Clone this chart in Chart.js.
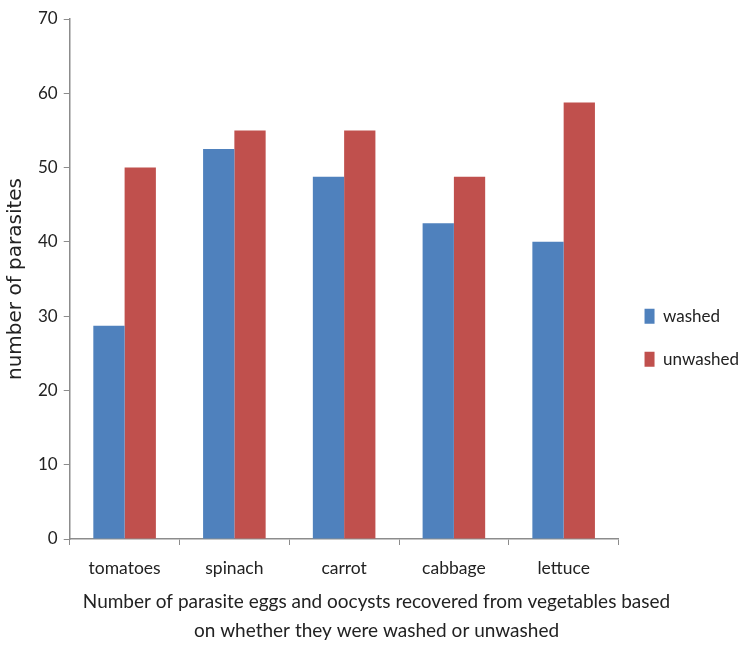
<!DOCTYPE html>
<html>
<head>
<meta charset="utf-8">
<script src="https://cdn.jsdelivr.net/npm/chart.js@4"></script>
<style>
  html, body { margin: 0; padding: 0; background: #fff; }
  #wrap { width: 739px; height: 645px; }
</style>
</head>
<body>
<div id="wrap"><canvas id="parasiteChart" width="739" height="645"></canvas></div>
<script>
// vegetables and counts
const vegetables = ['tomatoes', 'spinach', 'carrot', 'cabbage', 'lettuce'];
const washed = [28.7, 52.5, 48.75, 42.5, 40];
const unwashed = [50, 55, 55, 48.75, 58.75];
const yTicks = [0, 10, 20, 30, 40, 50, 60, 70];

const axisGray = '#8c8c8c';
const textColor = '#222';

const ctx = document.getElementById('parasiteChart').getContext('2d');
new Chart(ctx, {
    type: 'bar',
    data: {
        labels: vegetables,
        datasets: [
            { label: 'washed', data: washed, backgroundColor: '#4f81bd' },
            { label: 'unwashed', data: unwashed, backgroundColor: '#c0504d' }
        ]
    },
    options: {
        responsive: false,
        animation: false,
        layout: { padding: { top: 19, left: 4, right: -10, bottom: 0 } },
        datasets: { bar: { categoryPercentage: 0.57, barPercentage: 1.0 } },
        plugins: {
            legend: {
                position: 'right',
                // blank title just nudges the items down a little
                title: { display: true, text: ' ', font: { size: 8 }, padding: 1 },
                labels: {
                    boxWidth: 10,
                    boxHeight: 15,
                    padding: 26,
                    color: textColor,
                    font: { family: 'Lato', size: 17 }
                }
            },
            title: {
                display: true,
                position: 'bottom',
                text: ['Number of parasite eggs and oocysts recovered from vegetables based',
                       'on whether they were washed or unwashed'],
                color: textColor,
                font: { family: 'Lato', size: 19, weight: 'normal', lineHeight: 1.5 },
                padding: { top: -4, bottom: 0 }
            },
            tooltip: { enabled: false }
        },
        scales: {
            x: {
                grid: { drawOnChartArea: false, color: axisGray, tickLength: 6 },
                border: { color: axisGray, width: 1.5 },
                ticks: { color: textColor, font: { family: 'Lato', size: 17.5 }, padding: 13 }
            },
            y: {
                min: 0,
                max: 70,
                afterBuildTicks: axis => { axis.ticks = yTicks.map(v => ({ value: v })); },
                grid: { drawOnChartArea: false, color: axisGray, tickLength: 6 },
                border: { color: axisGray, width: 1.5 },
                ticks: { color: textColor, font: { family: 'Lato', size: 17 }, padding: 6 },
                title: {
                    display: true,
                    text: 'number of parasites',
                    color: textColor,
                    font: { family: 'DejaVu Sans', size: 20 },
                    padding: { top: 0, bottom: 4 }
                }
            }
        }
    }
});
</script>
</body>
</html>
